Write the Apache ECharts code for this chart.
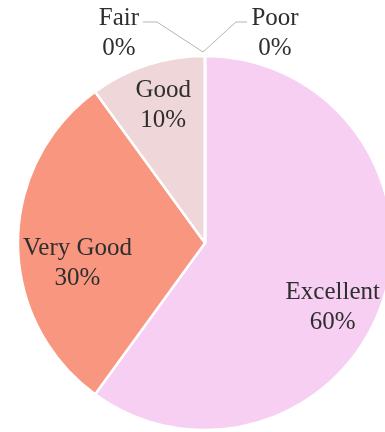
<!DOCTYPE html>
<html>
<head>
<meta charset="utf-8">
<script src="https://cdn.jsdelivr.net/npm/echarts@6/dist/echarts.min.js"></script>
<style>
  html, body { margin: 0; padding: 0; background: #ffffff; }
  #chart { width: 385px; height: 432px; }
</style>
</head>
<body>
<div id="chart"></div>
<script>
// Survey ratings and their shares
const categories = ['Excellent', 'Very Good', 'Good', 'Fair', 'Poor'];
const shares = [60, 30, 10, 0, 0];
const sliceColors = ['#f6cff2', '#f9967f', '#eed6d9', '#d9d9d9', '#d9d9d9'];

// Where each in-slice label sits relative to the slice's default inside point
const insideOffsets = {
  'Excellent': [36, 35],
  'Very Good': [-31, 20],
  'Good': [-12, -46]
};
// Outside labels for empty categories, relative to the top of the pie
const outsideShift = {
  'Fair': { dx: -84, dy: -19, elbow: [-46, -30], end: [-60, -30] },
  'Poor': { dx: 72, dy: -19, elbow: [33, -30], end: [44, -30] }
};

const cx = 205, cy = 243, r = 187;
const serif = '"Liberation Serif", "Times New Roman", serif';

const data = categories.map((name, i) => {
  const item = { name: name, value: shares[i], itemStyle: { color: sliceColors[i] } };
  if (insideOffsets[name]) {
    item.label = { position: 'inside', offset: insideOffsets[name] };
    item.labelLine = { show: false };
  }
  return item;
});

const chart = echarts.init(document.getElementById('chart'), null, { renderer: 'canvas' });
chart.setOption({
  animation: false,
  backgroundColor: '#ffffff',
  series: [{
    type: 'pie',
    center: [cx, cy],
    radius: r,
    startAngle: 90,
    clockwise: true,
    avoidLabelOverlap: false,
    minShowLabelAngle: -1,
    itemStyle: { borderColor: '#ffffff', borderWidth: 2.5 },
    label: {
      show: true,
      position: 'outside',
      formatter: '{b}\n{d}%',
      fontFamily: serif,
      fontSize: 25,
      lineHeight: 30,
      color: '#2e2e2e',
      align: 'center'
    },
    labelLine: {
      show: true,
      lineStyle: { color: '#b5b5b5', width: 1 }
    },
    labelLayout: function (p) {
      const name = categories[p.dataIndex];
      const s = outsideShift[name];
      if (!s) return {};
      const top = [cx - 2, cy - r - 4];
      return {
        x: top[0] + s.dx,
        y: top[1] + s.dy,
        align: 'center',
        verticalAlign: 'middle',
        labelLinePoints: [
          top,
          [top[0] + s.elbow[0], top[1] + s.elbow[1]],
          [top[0] + s.end[0], top[1] + s.end[1]]
        ]
      };
    },
    data: data
  }]
});
</script>
</body>
</html>
